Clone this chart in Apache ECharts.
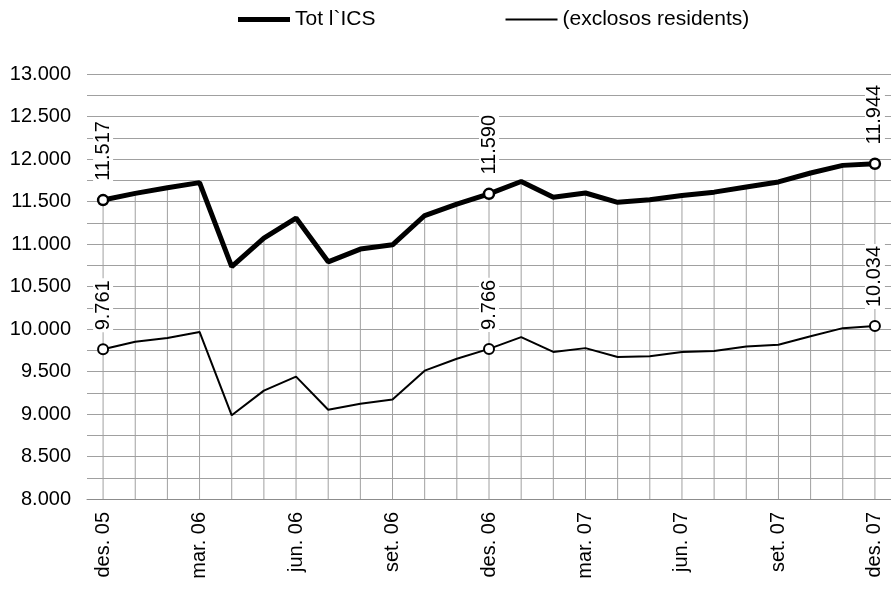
<!DOCTYPE html>
<html>
<head>
<meta charset="utf-8">
<script src="https://cdn.jsdelivr.net/npm/echarts@6/dist/echarts.min.js"></script>
<style>html,body{margin:0;padding:0;background:#fff;}#c{width:891px;height:589px;}</style>
</head>
<body>
<div id="c"></div>
<script>
const categories = ['des. 05','gen. 06','febr. 06','mar. 06','abr. 06','maig 06','jun. 06','jul. 06','ag. 06','set. 06','oct. 06','nov. 06',
  'des. 06','gen. 07','febr. 07','mar. 07','abr. 07','maig 07','jun. 07','jul. 07','ag. 07','set. 07','oct. 07','nov. 07','des. 07'];
const totICS = [11517,11596,11662,11722,10735,11070,11305,10790,10940,10990,11335,11470,
  11590,11735,11550,11600,11490,11520,11570,11610,11670,11730,11835,11925,11944];
const exclososResidents = [9761,9850,9895,9965,8985,9275,9440,9050,9120,9170,9510,9650,
  9766,9905,9730,9775,9670,9680,9730,9740,9795,9815,9915,10010,10034];
const labelledIndices = [0,12,24];
const seriesNames = ['Tot l`ICS','(exclosos residents)'];
const Y_MIN = 8000, Y_MAX = 13000, Y_STEP = 500;

const fmt = v => String(v).replace(/\B(?=(\d{3})+(?!\d))/g, '.');
const FONT = 'Liberation Sans, Arial, sans-serif';

function buildData(values, borderW) {
  return values.map((v, i) => {
    if (labelledIndices.includes(i)) {
      return {
        value: v,
        symbol: 'circle',
        symbolSize: 10,
        itemStyle: {color: '#fff', borderColor: '#000', borderWidth: borderW},
        label: {
          show: true, position: 'top', distance: 11, rotate: 90,
          align: 'left', verticalAlign: 'middle',
          formatter: () => fmt(v),
          fontFamily: FONT, fontSize: 20, color: '#000',
          backgroundColor: '#fff', padding: [0, 2, 0, 2]
        }
      };
    }
    return {value: v, symbol: 'none'};
  });
}

const chart = echarts.init(document.getElementById('c'));
chart.setOption({
  animation: false,
  backgroundColor: '#fff',
  legend: {
    left: 233, top: 4,
    itemWidth: 52, itemHeight: 14, itemGap: 130,
    textStyle: {fontFamily: FONT, fontSize: 21, color: '#000'},
    data: [
      {name: seriesNames[0], icon: 'path://M0,0H52V5H0Z', itemStyle: {color: '#000'}},
      {name: seriesNames[1], icon: 'path://M0,0H52V2H0Z', itemStyle: {color: '#000'}}
    ]
  },
  grid: {left: 87, top: 74, width: 808, height: 425, containLabel: false},
  xAxis: {
    type: 'category', data: categories, boundaryGap: true,
    axisLine: {show: true, lineStyle: {color: '#8c8c8c', width: 1}},
    axisTick: {show: false},
    splitLine: {show: false},
    axisLabel: {interval: 2, rotate: 90, margin: 13, fontFamily: FONT, fontSize: 20, color: '#000'}
  },
  yAxis: {
    type: 'value', min: Y_MIN, max: Y_MAX, interval: Y_STEP,
    axisLine: {show: false}, axisTick: {show: false},
    axisLabel: {formatter: fmt, margin: 16, fontFamily: FONT, fontSize: 20, color: '#000'},
    splitLine: {show: true, lineStyle: {color: '#a0a0a0', width: 1}},
    minorTick: {show: false, splitNumber: 2},
    minorSplitLine: {show: true, lineStyle: {color: '#a0a0a0', width: 1}}
  },
  series: [
    {
      type: 'custom', name: 'drop', z: 1, silent: true,
      encode: {x: 0, y: 1},
      data: totICS.map((v, i) => [i, v]),
      renderItem: (params, api) => {
        const top = api.coord([api.value(0), api.value(1)]);
        const bot = api.coord([api.value(0), Y_MIN]);
        return {type: 'line', shape: {x1: top[0], y1: top[1], x2: bot[0], y2: bot[1]},
          style: {stroke: '#a0a0a0', lineWidth: 1}};
      }
    },
    {
      type: 'line', name: seriesNames[0], z: 3,
      data: buildData(totICS, 2.5), showSymbol: true,
      lineStyle: {color: '#000', width: 5}, itemStyle: {color: '#000'}
    },
    {
      type: 'line', name: seriesNames[1], z: 3,
      data: buildData(exclososResidents, 2), showSymbol: true,
      lineStyle: {color: '#000', width: 2}, itemStyle: {color: '#000'}
    }
  ]
});
</script>
</body>
</html>
